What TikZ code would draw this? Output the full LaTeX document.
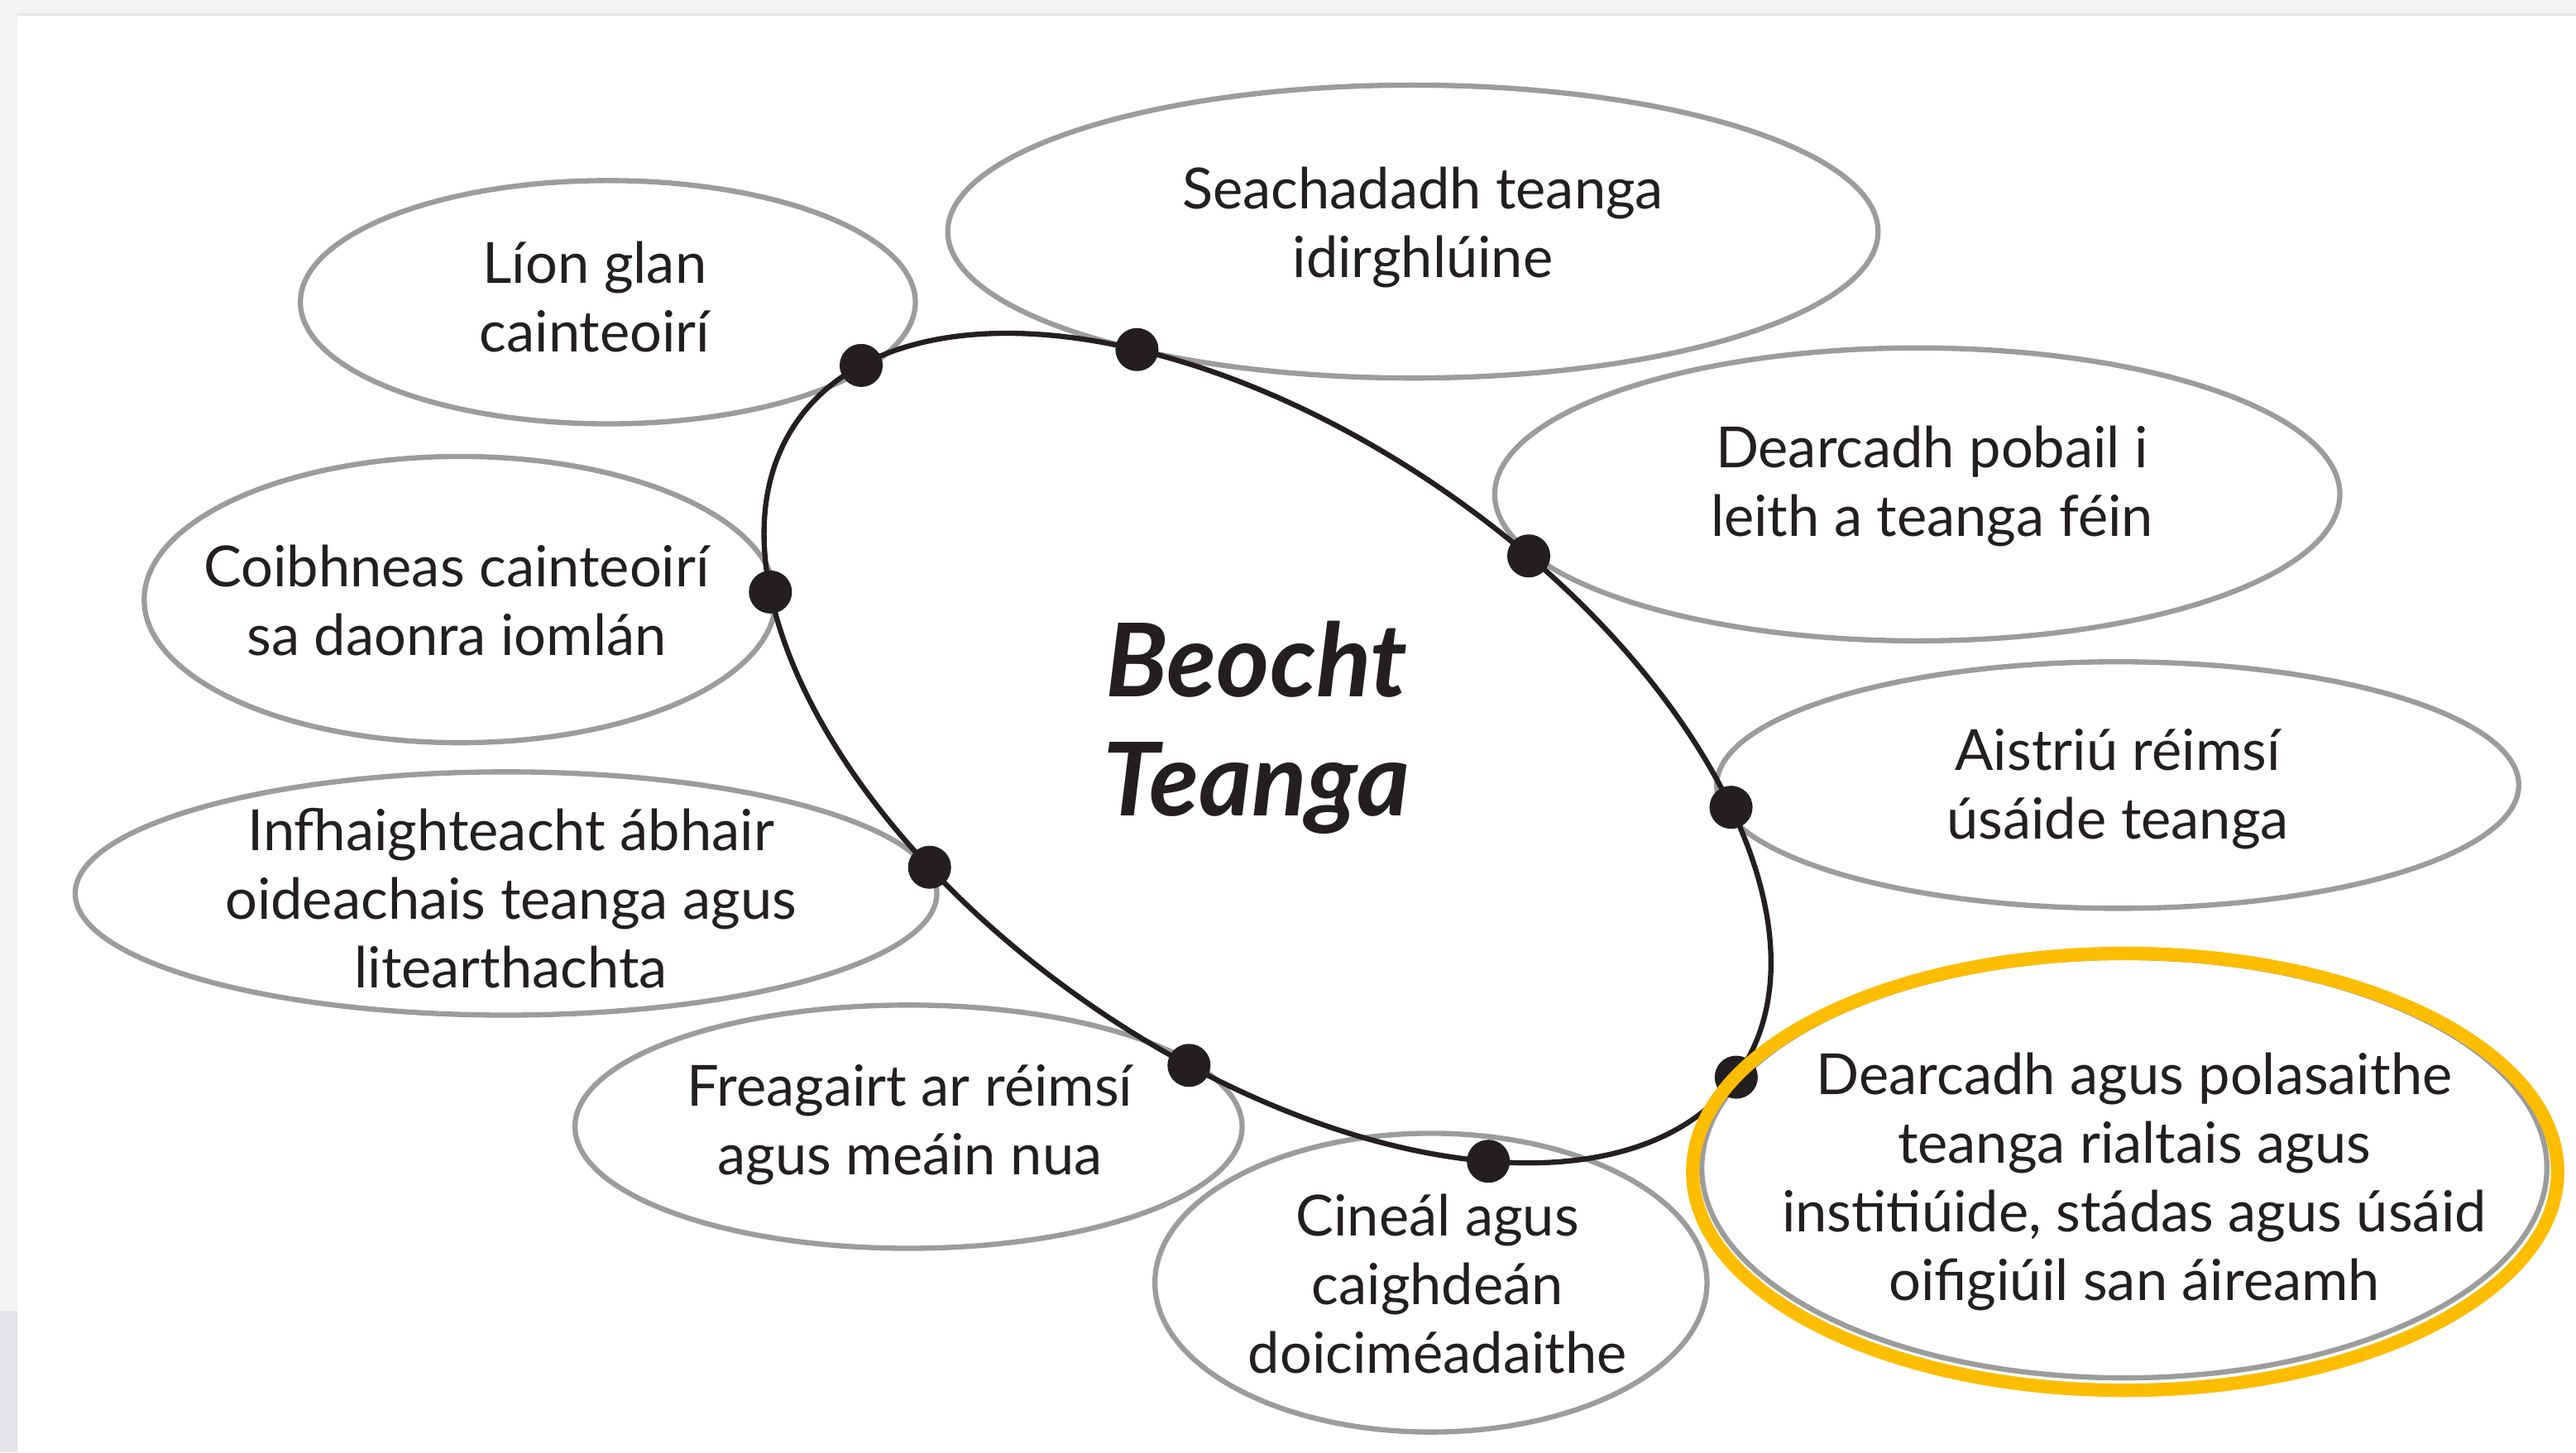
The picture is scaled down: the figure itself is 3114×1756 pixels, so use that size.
\documentclass[tikz,border=0pt]{standalone}
\usepackage{fontspec}
\setmainfont{Lato}
\usetikzlibrary{shapes.geometric}
\definecolor{txt}{HTML}{231F20}
\definecolor{bubgray}{HTML}{9C9C9C}
\definecolor{gold}{HTML}{FDBD00}
\definecolor{stripA}{HTML}{F3F3F3}
\definecolor{stripB}{HTML}{E8E8E8}
\definecolor{stripC}{HTML}{E3E5E8}
\begin{document}
\begin{tikzpicture}[x=0.01cm,y=0.01cm,
  bub/.style={ellipse, draw=bubgray, line width=1.8pt, inner sep=0pt},
  lbl/.style={text=txt, align=center, inner sep=0pt, font=\fontsize{19.5}{23.6}\selectfont},
  dotn/.style={circle, fill=txt, inner sep=0pt, minimum size=0.52cm},
  ring/.style={draw=txt, line width=1.8pt}]
% canvas and frame strips
\useasboundingbox (0,0) rectangle (3114,-1756);
\fill[white] (0,0) rectangle (3114,-1756);
\fill[stripA] (0,0) rectangle (3114,-19);
\fill[stripB] (0,-16) rectangle (3114,-19);
\fill[stripA] (0,0) rectangle (21,-1756);
\fill[stripC] (0,-1585) rectangle (21,-1756);

% outer bubbles
\node[bub, minimum width=7.43cm, minimum height=2.94cm] (e1) at (734.8,-365.4) {};
\node[bub, minimum width=11.24cm, minimum height=3.54cm] (e2) at (1708,-280) {};
\node[bub, minimum width=10.21cm, minimum height=3.54cm] (e3) at (2317.7,-597.8) {};
\node[bub, minimum width=7.63cm, minimum height=3.46cm] (e4) at (556,-725) {};
\node[bub, minimum width=9.69cm, minimum height=2.98cm] (e5) at (2560,-949.3) {};
\node[bub, minimum width=10.41cm, minimum height=2.94cm] (e6) at (611.7,-1080.4) {};
\node[bub, minimum width=8.06cm, minimum height=2.94cm] (e7) at (1098.3,-1362.4) {};
\node[bub, minimum width=6.67cm, minimum height=3.61cm] (e8) at (1729.8,-1551) {};
\node[bub, minimum width=10.21cm, minimum height=5.08cm] (e9) at (2568,-1412) {};

% central ring with dots
\begin{scope}[shift={(1532.2,-904.6)}, rotate=-34.7]
  \draw[ring] (0,0) ellipse [x radius=692.5, y radius=377.3];
  \node[dotn] (d1) at (164.5:692.5 and 377.3) {};
  \node[dotn] (d2) at (125.7:692.5 and 377.3) {};
  \node[dotn] (d3) at (79.4:692.5 and 377.3) {};
  \node[dotn] (d4) at (43.6:692.5 and 377.3) {};
  \node[dotn] (d5) at (-0.7:692.5 and 377.3) {};
  \node[dotn] (d6) at (-43.3:692.5 and 377.3) {};
  \node[dotn] (d7) at (-78.3:692.5 and 377.3) {};
  \node[dotn] (d8) at (-111.5:692.5 and 377.3) {};
  \node[dotn] (d9) at (-150.3:692.5 and 377.3) {};
\end{scope}

\node[text=txt, align=center, inner sep=0pt, font=\fontsize{35}{41}\selectfont\bfseries\itshape] (core) at (1519,-880) {Beocht\\Teanga};

% labels
\node[lbl] (t1) at (719,-359) {Líon glan\\cainteoirí};
\node[lbl] (t2) at (1720,-275) {Seachadadh teanga\\idirghlúine};
\node[lbl] (t3) at (2335.5,-588) {Dearcadh pobail i\\leith a teanga féin};
\node[lbl] (t4) at (552,-726) {Coibhneas cainteoirí\\sa daonra iomlán};
\node[lbl] (t5) at (2560,-954) {Aistriú réimsí\\úsáide teanga};
\node[lbl] (t6) at (617.6,-1086.5) {Infhaighteacht ábhair\\oideachais teanga agus\\litearthachta};
\node[lbl] (t7) at (1100,-1360.5) {Freagairt ar réimsí\\agus meáin nua};
\node[lbl] (t8) at (1737.8,-1552.5) {Cineál agus\\caighdeán\\doiciméadaithe};
\node[lbl] (t9) at (2580,-1429) {Dearcadh agus polasaithe\\teanga rialtais agus\\institiúide, stádas agus úsáid\\oifigiúil san áireamh};

% highlight
\node[ellipse, draw=gold, line width=4.6pt, inner sep=0pt, minimum width=10.45cm, minimum height=5.28cm] (hl) at (2569,-1417) {};
\end{tikzpicture}
\end{document}
